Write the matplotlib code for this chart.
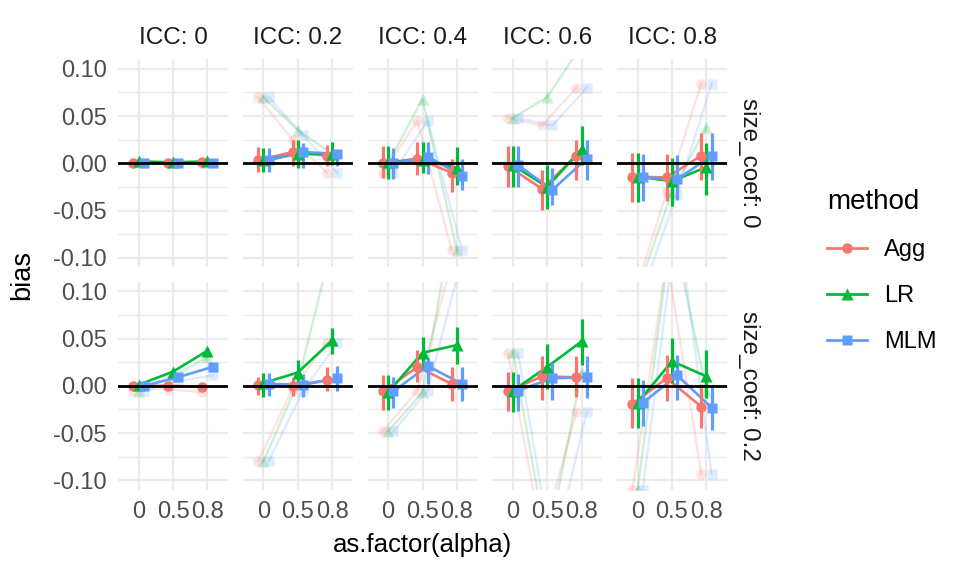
import numpy as np
import matplotlib.pyplot as plt
from matplotlib.lines import Line2D

plt.rcParams['font.family'] = ['Liberation Sans', 'DejaVu Sans']

alpha_labels = ['0', '0.5', '0.8']
icc_levels = ['0', '0.2', '0.4', '0.6', '0.8']
size_levels = ['0', '0.2']
methods = ['Agg', 'LR', 'MLM']
colors = ['#F8766D', '#00BA38', '#619CFF']
markers = ['o', '^', 's']
msizes = [7.5, 8.5, 7]

# values indexed [size_coef][ICC][alpha]
agg_est = [
    [[0, 0, 0.001], [0.003, 0.012, 0.008], [0, 0.005, -0.01], [-0.003, -0.027, 0.008], [-0.014, -0.015, 0.008]],
    [[0, 0, -0.001], [0.001, 0, 0.006], [-0.006, 0.02, 0.002], [-0.006, 0.01, 0.009], [-0.019, 0.008, -0.022]],
]
agg_lo = [
    [[-0.002, -0.002, -0.001], [-0.009, -0.003, -0.003], [-0.016, -0.012, -0.03], [-0.025, -0.049, -0.018], [-0.041, -0.04, -0.018]],
    [[-0.002, -0.002, -0.003], [-0.01, -0.011, -0.005], [-0.026, 0.004, -0.016], [-0.027, -0.015, -0.012], [-0.045, -0.016, -0.045]],
]
agg_hi = [
    [[0.002, 0.002, 0.003], [0.017, 0.025, 0.019], [0.018, 0.023, 0.005], [0.018, -0.007, 0.025], [0.011, 0.01, 0.032]],
    [[0.002, 0.002, 0.001], [0.009, 0.008, 0.02], [0.011, 0.038, 0.02], [0.015, 0.031, 0.031], [0.008, 0.033, 0.002]],
]
agg_naive = [
    [[0, 0, -0.001], [0.07, 0.025, -0.01], [-0.01, 0.045, -0.092], [0.048, 0.04, 0.08], [-0.145, -0.03, 0.084]],
    [[-0.005, -0.003, -0.007], [-0.08, -0.003, 0.045], [-0.048, -0.005, 0.13], [0.035, -0.16, -0.028], [-0.11, 0.135, -0.093]],
]

lr_est = [
    [[0.002, 0.001, 0.002], [0.003, 0.01, 0.01], [0.001, 0.004, -0.005], [-0.002, -0.025, 0.015], [-0.014, -0.019, -0.004]],
    [[0.001, 0.015, 0.037], [0.003, 0.014, 0.048], [-0.007, 0.035, 0.043], [-0.005, 0.02, 0.047], [-0.018, 0.026, 0.01]],
]
lr_lo = [
    [[0, -0.001, 0], [-0.009, -0.005, -0.002], [-0.017, -0.01, -0.023], [-0.025, -0.048, -0.002], [-0.041, -0.045, -0.034]],
    [[-0.002, 0.012, 0.034], [-0.012, 0.0035, 0.034], [-0.026, 0.018, 0.023], [-0.028, -0.003, 0.0225], [-0.045, 0.0025, -0.013]],
]
lr_hi = [
    [[0.004, 0.003, 0.004], [0.016, 0.025, 0.022], [0.018, 0.023, 0.017], [0.018, -0.002, 0.039], [0.011, 0.006, 0.021]],
    [[0.004, 0.018, 0.04], [0.014, 0.027, 0.061], [0.011, 0.052, 0.062], [0.015, 0.044, 0.071], [0.008, 0.051, 0.038]],
]
lr_naive = [
    [[0.001, 0.001, 0.001], [0.07, 0.035, 0.01], [0, 0.068, -0.092], [0.048, 0.07, 0.125], [-0.135, -0.03, 0.038]],
    [[-0.005, 0.01, 0.03], [-0.08, 0.003, 0.15], [-0.048, -0.007, 0.2], [0.036, -0.17, 0.015], [-0.11, 0.17, -0.005]],
]

mlm_est = [
    [[0, 0, 0], [0.003, 0.012, 0.01], [0, 0.007, -0.013], [-0.002, -0.028, 0.005], [-0.015, -0.017, 0.008]],
    [[0, 0.009, 0.02], [0.002, 0.001, 0.008], [-0.006, 0.021, 0.002], [-0.005, 0.008, 0.009], [-0.018, 0.011, -0.023]],
]
mlm_lo = [
    [[-0.002, -0.002, -0.002], [-0.009, -0.005, -0.003], [-0.017, -0.011, -0.028], [-0.025, -0.044, -0.018], [-0.04, -0.039, -0.018]],
    [[-0.002, 0.006, 0.017], [-0.011, -0.012, -0.005], [-0.024, 0.002, -0.016], [-0.027, -0.015, -0.013], [-0.043, -0.015, -0.047]],
]
mlm_hi = [
    [[0.002, 0.002, 0.002], [0.016, 0.021, 0.014], [0.016, 0.023, 0.005], [0.018, -0.005, 0.025], [0.01, 0.009, 0.032]],
    [[0.002, 0.012, 0.023], [0.014, 0.013, 0.021], [0.009, 0.029, 0.02], [0.013, 0.024, 0.032], [0.006, 0.033, 0.001]],
]
mlm_naive = [
    [[0, 0, 0], [0.07, 0.03, -0.01], [-0.01, 0.045, -0.092], [0.048, 0.04, 0.08], [-0.135, -0.032, 0.084]],
    [[-0.005, 0.005, 0.011], [-0.08, -0.005, 0.045], [-0.048, -0.005, 0.135], [0.035, -0.18, -0.028], [-0.11, 0.18, -0.093]],
]

est = [agg_est, lr_est, mlm_est]
lo = [agg_lo, lr_lo, mlm_lo]
hi = [agg_hi, lr_hi, mlm_hi]
naive = [agg_naive, lr_naive, mlm_naive]

W, H = 960, 576
fig = plt.figure(figsize=(9.6, 5.76), dpi=100)

dodge = [-0.15, 0, 0.15]
xs = np.arange(len(alpha_labels))
panel_w = 110
panel_h = 208
lefts = [118 + i * 124.75 for i in range(5)]
tops = [59.3, 281.8]

for r in range(2):
    for c in range(5):
        ax = fig.add_axes([lefts[c] / W, 1 - (tops[r] + panel_h) / H, panel_w / W, panel_h / H])
        ax.set_xlim(-0.6, 2.6)
        ax.set_ylim(-0.11, 0.11)
        ax.set_xticks(xs)
        ax.set_yticks([-0.1, -0.05, 0, 0.05, 0.1])
        ax.set_yticks([-0.075, -0.025, 0.025, 0.075], minor=True)
        ax.grid(True, which='major', color='#EBEBEB', lw=1.6)
        ax.grid(True, which='minor', axis='y', color='#EBEBEB', lw=1.0)
        ax.set_axisbelow(True)
        for s in ax.spines.values():
            s.set_visible(False)
        ax.tick_params(which='both', length=0, labelsize=17, labelcolor='#4D4D4D', pad=8)
        if r == 1:
            ax.set_xticklabels(alpha_labels)
        else:
            ax.set_xticklabels([])
        if c == 0:
            ax.set_yticklabels(['-0.10', '-0.05', '0.00', '0.05', '0.10'])
        else:
            ax.set_yticklabels([])

        # faded series
        for m in range(3):
            x = xs + dodge[m]
            ax.plot(x, naive[m][r][c], color=colors[m], lw=1.7, alpha=0.2,
                    marker=markers[m], ms=msizes[m], mec='none', zorder=2)
        # main series
        for m in range(3):
            x = xs + dodge[m]
            ax.plot(x, est[m][r][c], color=colors[m], lw=1.9, zorder=3)
            ax.vlines(x, lo[m][r][c], hi[m][r][c], color=colors[m], lw=2.3, zorder=4)
            ax.plot(x, est[m][r][c], ls='none', marker=markers[m], ms=msizes[m],
                    color=colors[m], mec='none', zorder=5)
        ax.axhline(0, color='black', lw=2, zorder=6)

        if r == 0:
            ax.text(0.5, 1 + 21 / panel_h, 'ICC: ' + icc_levels[c], transform=ax.transAxes,
                    ha='center', va='center', fontsize=17.5, color='#1A1A1A')
        if c == 4:
            ax.text(1 + 22 / panel_w, 0.5, 'size_coef: ' + size_levels[r], transform=ax.transAxes,
                    ha='center', va='center', rotation=-90, fontsize=17.5, color='#1A1A1A')

fig.text(22 / W, 1 - 275 / H, 'bias', rotation=90, ha='center', va='center', fontsize=19.5)
fig.text(422 / W, 1 - 545 / H, 'as.factor(alpha)', ha='center', va='center', fontsize=18.5)

handles = [Line2D([0], [0], color=colors[m], lw=2.0, marker=markers[m], ms=msizes[m], mec='none')
           for m in range(3)]
fig.legend(handles, methods, loc='upper left', bbox_to_anchor=(806 / W, 1 - 168 / H),
           frameon=False, fontsize=17, title='method', title_fontsize=20,
           handlelength=1.7, handletextpad=0.7, labelspacing=1.02, alignment='left')

fig.savefig('out.png', dpi=100)
